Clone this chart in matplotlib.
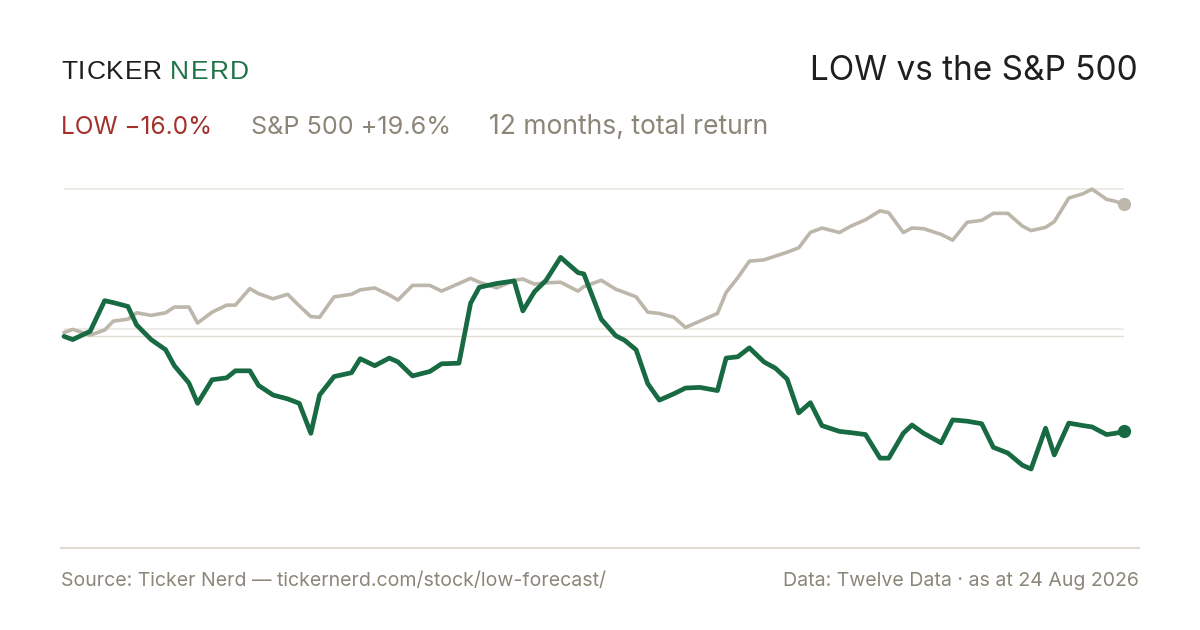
import matplotlib
matplotlib.use("Agg")
import matplotlib.pyplot as plt

# ---- data (12 months, total return, %) ----
days = [0, 3, 9, 14, 17, 22, 25, 30, 35, 38,
        43, 46, 51, 56, 59, 64, 67, 72, 77, 81,
        85, 88, 93, 99, 102, 107, 112, 115, 120, 126,
        130, 136, 140, 143, 149, 155, 158, 162, 166, 171,
        177, 179, 185, 190, 193, 197, 201, 205, 210, 214,
        219, 225, 228, 232, 236, 241, 245, 249, 253, 257,
        261, 267, 271, 276, 281, 284, 289, 292, 296, 302,
        306, 311, 316, 320, 325, 330, 333, 338, 341, 346,
        351, 354, 359, 362, 365]

spx = [-0.5, 0.0, -0.9, -0.1, 1.3, 1.6, 2.6, 2.2, 2.6, 3.5,
       3.5, 1.0, 2.7, 3.8, 3.8, 6.4, 5.6, 4.8, 5.5, 3.7,
       2.0, 1.9, 5.1, 5.5, 6.2, 6.5, 5.4, 4.6, 6.9, 6.9,
       6.0, 7.2, 8.0, 7.4, 6.5, 7.7, 7.9, 7.1, 7.3, 7.4,
       6.0, 6.7, 7.7, 6.3, 5.8, 5.1, 2.7, 2.5, 1.9, 0.3,
       1.3, 2.5, 5.8, 8.1, 10.7, 10.9, 11.5, 12.1, 12.8, 15.2,
       15.9, 15.2, 16.2, 17.2, 18.6, 18.3, 15.2, 15.9, 15.8, 14.9,
       14.0, 16.8, 17.1, 18.2, 18.2, 16.2, 15.5, 16.0, 16.9, 20.6,
       21.3, 22.0, 20.4, 20.1, 19.6]

low = [-1.1, -1.6, -0.3, 4.5, 4.2, 3.6, 0.7, -1.6, -3.2, -5.7,
       -8.4, -11.6, -7.9, -7.6, -6.5, -6.5, -8.8, -10.3, -10.9, -11.6,
       -16.3, -10.3, -7.4, -6.8, -4.6, -5.7, -4.5, -5.1, -7.3, -6.6,
       -5.4, -5.3, 4.1, 6.6, 7.2, 7.6, 2.9, 5.9, 7.7, 11.3,
       8.9, 8.7, 1.6, -1.0, -1.7, -3.2, -8.5, -11.1, -10.1, -9.2,
       -9.1, -9.6, -4.5, -4.3, -2.9, -5.1, -6.1, -7.8, -13.1, -11.5,
       -15.1, -16.0, -16.2, -16.5, -20.2, -20.2, -16.3, -15.0, -16.3, -17.8,
       -14.2, -14.4, -14.8, -18.5, -19.4, -21.3, -21.9, -15.5, -19.7, -14.7,
       -15.1, -15.3, -16.5, -16.3, -16.0]

grid_levels = [0.0, 22.0]
start_level = -1.0

brand_a, brand_b = "TICKER", "NERD"
title = "LOW vs the S&P 500"
sub_low = "LOW \u221216.0%"
sub_spx = "S&P 500 +19.6%"
sub_note = "12 months, total return"
foot_left = "Source: Ticker Nerd \u2014 tickernerd.com/stock/low-forecast/"
foot_right = "Data: Twelve Data \u00b7 as at 24 Aug 2026"

# ---- styling ----
GREEN = "#176a42"
BEIGE = "#bdb6ab"
RED = "#a3302a"
GRAY = "#8b8678"
DARK = "#1f1f1f"
GRID = "#ece9e3"
FONT = ["Inter", "DejaVu Sans"]
plt.rcParams["font.family"] = FONT

W, H = 1200, 630
fig = plt.figure(figsize=(W / 100, H / 100), dpi=100)
fig.patch.set_facecolor("white")
renderer = fig.canvas.get_renderer()

def fx(px):
    return px / W

def fy(py):
    return 1 - py / H

def fitted_text(x0, x1, base, s, color, size_guess, ha="left", **kw):
    """Place text so it spans roughly x0..x1 pixels."""
    t = fig.text(fx(x0 if ha == "left" else x1), fy(base), s, fontsize=size_guess,
                 color=color, va="baseline", ha=ha, **kw)
    w = t.get_window_extent(renderer).width
    t.set_fontsize(size_guess * (x1 - x0) / w)
    return t

def tracked_text(x0, x1, base, s, color, size, **kw):
    """Letter-spaced word drawn char by char to span x0..x1 pixels."""
    widths = []
    for ch in s:
        t = fig.text(0, 0, ch, fontsize=size, **kw)
        widths.append(t.get_window_extent(renderer).width)
        t.remove()
    gap = ((x1 - x0) - sum(widths)) / max(len(s) - 1, 1)
    x = x0
    for ch, w in zip(s, widths):
        fig.text(fx(x), fy(base), ch, fontsize=size, color=color,
                 va="baseline", ha="left", **kw)
        x += w + gap

# axes placed in pixel box: x 64..1124, y 170..520
ax = fig.add_axes([fx(64), fy(520), fx(1124) - fx(64), (520 - 170) / H])
ax.set_xlim(0, 365)
ax.set_ylim(-29.9, 25.0)
ax.axis("off")

for g in grid_levels:
    ax.axhline(g, color=GRID, lw=1.3, zorder=1)
ax.axhline(start_level, color="#e2ddd3", lw=1.0, zorder=1)

ax.plot(days, spx, color=BEIGE, lw=2.6, solid_joinstyle="round",
        solid_capstyle="round", zorder=3, clip_on=False)
ax.plot(days[-1:], spx[-1:], "o", color=BEIGE, ms=8.5, zorder=4, clip_on=False)
ax.plot(days, low, color=GREEN, lw=3.4, solid_joinstyle="round",
        solid_capstyle="round", zorder=5, clip_on=False)
ax.plot(days[-1:], low[-1:], "o", color=GREEN, ms=8.5, zorder=6, clip_on=False)

# ---- header ----
tracked_text(61, 162, 79, brand_a, DARK, 19, family=["Liberation Sans", "DejaVu Sans"])
tracked_text(170, 249, 79, brand_b, "#1e7447", 19, family=["Liberation Sans", "DejaVu Sans"])
fitted_text(810, 1138, 80, title, DARK, 24, ha="right")

fitted_text(61, 212, 134, sub_low, RED, 17)
fitted_text(251, 451, 134, sub_spx, GRAY, 17)
fitted_text(489, 769, 134, sub_note, GRAY, 17)

# ---- footer ----
fig.add_artist(plt.Line2D([fx(61), fx(1139)], [fy(548), fy(548)],
                          color="#e0dcd3", lw=1.5, transform=fig.transFigure))
fitted_text(61, 604, 586, foot_left, GRAY, 13)
fitted_text(783, 1139, 586, foot_right, GRAY, 13, ha="right")

fig.savefig("out.png", dpi=100, facecolor="white")
